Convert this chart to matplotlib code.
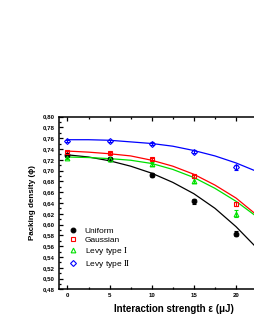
import matplotlib
matplotlib.use("Agg")
import matplotlib.pyplot as plt
from matplotlib.ticker import MultipleLocator, FuncFormatter

plt.rcParams['font.family'] = ['Liberation Sans', 'DejaVu Sans']
plt.rcParams['mathtext.fontset'] = 'stix'

# measured data
x = [0, 5, 10, 15, 20]
uniform = [0.728, 0.722, 0.692, 0.643, 0.583]
uniform_err = [0.003, 0.003, 0.004, 0.005, 0.005]
gaussian = [0.734, 0.733, 0.722, 0.689, 0.638]
gaussian_err = [0.002, 0.002, 0.002, 0.003, 0.003]
levy1 = [0.723, 0.721, 0.712, 0.681, 0.620]
levy1_err = [0.002, 0.003, 0.003, 0.005, 0.007]
levy2 = [0.755, 0.755, 0.750, 0.735, 0.706]
levy2_err = [0.002, 0.002, 0.002, 0.003, 0.005]

# fitted curves
xf = [0, 2.5, 5, 7.5, 10, 12.5, 15, 17.5, 20, 22.5, 25]
uniform_fit = [0.729, 0.725, 0.718, 0.708, 0.695, 0.678, 0.657, 0.630, 0.596, 0.556, 0.508]
gaussian_fit = [0.736, 0.734, 0.731, 0.727, 0.719, 0.708, 0.693, 0.673, 0.649, 0.617, 0.580]
levy1_fit = [0.725, 0.724, 0.722, 0.719, 0.713, 0.702, 0.687, 0.667, 0.643, 0.614, 0.580]
levy2_fit = [0.757, 0.757, 0.756, 0.753, 0.750, 0.745, 0.737, 0.727, 0.714, 0.698, 0.678]

labels = ['Uniform', 'Gaussian', r'Levy type $\mathrm{I}$', r'Levy type $\mathrm{II}$']

W, H = 255, 330
fig = plt.figure(figsize=(W / 100, H / 100), dpi=100)
left_px, right_px, top_px, bot_px = 59, 286.6, 116.5, 289.3
ax = fig.add_axes([left_px / W, 1 - bot_px / H, (right_px - left_px) / W, (bot_px - top_px) / H])

series = [
    (uniform, uniform_err, uniform_fit, 'black', 'o', 'black'),
    (gaussian, gaussian_err, gaussian_fit, 'red', 's', 'none'),
    (levy1, levy1_err, levy1_fit, '#00e000', '^', 'none'),
    (levy2, levy2_err, levy2_fit, 'blue', 'D', 'none'),
]
handles = []
for (vals, err, fit, col, mk, fc), lab in zip(series, labels):
    ax.plot(xf, fit, color=col, lw=0.9, zorder=2)
    ax.errorbar(x, vals, yerr=err, fmt='none', ecolor=col, elinewidth=0.8, capsize=1.3, capthick=0.8, zorder=3)
    ms = 3.0 if mk == 'D' else 3.4
    h, = ax.plot(x, vals, ls='none', marker=mk, color=col, mfc=fc, mec=col, ms=ms, mew=0.8, zorder=4, label=lab)
    handles.append(h)

ax.set_xlim(-1, 26)
ax.set_ylim(0.48, 0.80)
ax.xaxis.set_major_locator(MultipleLocator(5))
ax.xaxis.set_minor_locator(MultipleLocator(2.5))
ax.yaxis.set_major_locator(MultipleLocator(0.02))
ax.yaxis.set_minor_locator(MultipleLocator(0.01))
ax.yaxis.set_major_formatter(FuncFormatter(lambda v, p: ('%.2f' % v).replace('.', ',')))
ax.xaxis.set_major_formatter(FuncFormatter(lambda v, p: '%d' % v if v < 22 else ''))
ax.tick_params(which='both', direction='in', top=True, right=True, width=0.9)
ax.tick_params(which='major', length=3.0, labelsize=4.4, pad=3)
ax.tick_params(which='minor', length=1.6)
for t in ax.get_xticklabels() + ax.get_yticklabels():
    t.set_fontweight('bold')
for s in ax.spines.values():
    s.set_linewidth(1.1)

ax.set_xlabel('Interaction strength ε (μJ)', fontsize=7, fontweight='bold', labelpad=4)
ax.set_ylabel('Packing density (ϕ)', fontsize=5.8, fontweight='bold', labelpad=5)
ax.xaxis.set_label_coords((174 - left_px) / (right_px - left_px), -0.085)

leg = ax.legend(handles=handles, loc='upper left', frameon=False, fontsize=6,
                bbox_to_anchor=(69 / W, 1 - 227 / H), bbox_transform=fig.transFigure,
                borderaxespad=0, borderpad=0, handlelength=1.0, handletextpad=0.9,
                labelspacing=0.12)

fig.savefig('out.png', dpi=100)
